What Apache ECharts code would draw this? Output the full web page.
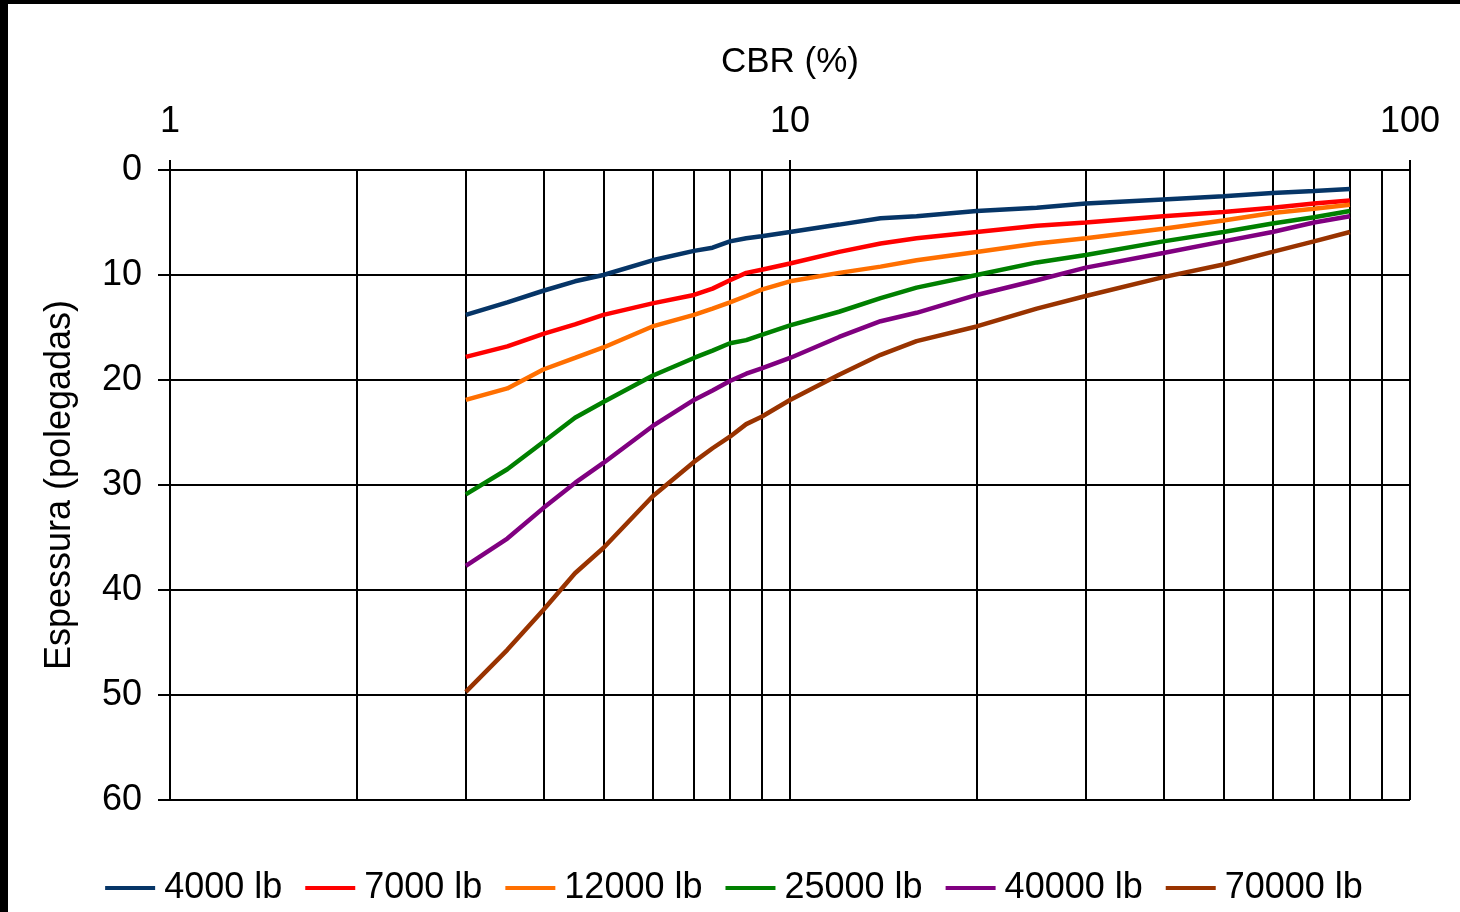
<!DOCTYPE html>
<html>
<head>
	<meta charset="utf-8">
	<title>CBR x Espessura</title>
	<script type="text/javascript" src="https://cdn.jsdelivr.net/npm/echarts@6.0.0/dist/echarts.min.js"></script>
</head>
<style type="text/css">
body {
	margin: 0;
	width: 1460px;
	height: 912px;
	background: #000;
	overflow: hidden;
}

#grafico {
	position: absolute;
	left: 8px;
	top: 4px;
	width: 1452px;
	height: 908px;
	background: #fff;
}
</style>
<body>
	<div id="grafico"></div>
</body>

<script type="text/javascript">

	// valores de CBR (%)
	var cbr = [3, 3.5, 4, 4.5, 5, 6, 7, 7.5, 8, 8.5, 9, 10, 12, 14, 16, 20, 25, 30, 40, 50, 60, 70, 80];

	// espessura (polegadas) por carga de roda
	var esp4000  = [13.8, 12.6, 11.5, 10.6, 10.0, 8.6, 7.7, 7.4, 6.8, 6.5, 6.3, 5.9, 5.2, 4.6, 4.4, 3.9, 3.6, 3.2, 2.8, 2.5, 2.2, 2.0, 1.8];
	var esp7000  = [17.8, 16.8, 15.6, 14.7, 13.8, 12.7, 11.9, 11.3, 10.5, 9.8, 9.5, 8.9, 7.8, 7.0, 6.5, 5.9, 5.3, 5.0, 4.4, 4.0, 3.6, 3.2, 2.9];
	var esp12000 = [21.9, 20.8, 19.0, 17.9, 16.9, 14.9, 13.8, 13.2, 12.6, 12.0, 11.4, 10.6, 9.8, 9.2, 8.6, 7.8, 7.0, 6.5, 5.6, 4.8, 4.1, 3.7, 3.3];
	var esp25000 = [30.9, 28.5, 25.9, 23.6, 22.1, 19.6, 17.9, 17.2, 16.5, 16.2, 15.7, 14.8, 13.5, 12.2, 11.2, 10.0, 8.8, 8.1, 6.8, 5.9, 5.1, 4.5, 3.9];
	var esp40000 = [37.7, 35.1, 32.2, 29.8, 27.9, 24.4, 21.9, 21.0, 20.1, 19.4, 18.9, 17.9, 15.9, 14.4, 13.6, 11.9, 10.5, 9.3, 7.9, 6.8, 5.9, 5.0, 4.4];
	var esp70000 = [49.7, 45.7, 41.9, 38.4, 36.0, 31.1, 27.8, 26.5, 25.4, 24.2, 23.5, 21.9, 19.5, 17.6, 16.3, 14.9, 13.2, 12.0, 10.2, 9.0, 7.8, 6.8, 5.9];

	var cargas = ['4000 lb', '7000 lb', '12000 lb', '25000 lb', '40000 lb', '70000 lb'];
	var cores = ['#063567', '#ff0000', '#ff6f00', '#008000', '#800080', '#993300'];

	// linhas de grade secundarias do eixo log
	var gradeMenor = [2, 3, 4, 5, 6, 7, 8, 9, 20, 30, 40, 50, 60, 70, 80, 90];

	var fonte = '"Liberation Sans", Arial, sans-serif';

	function pares(valores) {
		var d = [];
		for (var i = 0; i < cbr.length; i++) {
			d.push([cbr[i], valores[i]]);
		}
		return d;
	}

	var todas = [esp4000, esp7000, esp12000, esp25000, esp40000, esp70000];
	var series = [];
	for (var i = 0; i < todas.length; i++) {
		series.push({
			name: cargas[i],
			type: 'line',
			data: pares(todas[i]),
			showSymbol: false,
			symbol: 'none',
			smooth: false,
			lineStyle: { width: 4.5, color: cores[i] },
			itemStyle: { color: cores[i] },
			z: 3
		});
	}

	// grade vertical 2..9, 20..90
	var linhas = [];
	for (var j = 0; j < gradeMenor.length; j++) {
		linhas.push({ xAxis: gradeMenor[j] });
	}
	series[0].markLine = {
		silent: true,
		symbol: 'none',
		label: { show: false },
		lineStyle: { color: '#000', width: 2, type: 'solid' },
		data: linhas,
		z: 1
	};

	var Chart = echarts.init(document.getElementById('grafico'));

	var option = {
		animation: false,
		color: cores,
		textStyle: { fontFamily: fonte },
		grid: {
			left: 162,
			top: 166,
			right: 50,
			bottom: 112,
			containLabel: false
		},
		legend: {
			bottom: 1,
			left: 'center',
			icon: 'rect',
			itemWidth: 50,
			itemHeight: 4,
			itemGap: 23,
			textStyle: { fontSize: 36, color: '#000', fontFamily: fonte, padding: [0, 0, 0, 4] },
			data: cargas
		},
		xAxis: {
			type: 'log',
			logBase: 10,
			min: 1,
			max: 100,
			position: 'top',
			name: 'CBR (%)',
			nameLocation: 'middle',
			nameGap: 90,
			nameTextStyle: { fontSize: 35, color: '#000', fontFamily: fonte },
			axisLine: { show: true, lineStyle: { color: '#000', width: 2 } },
			axisTick: { show: true, length: 10, lineStyle: { color: '#000', width: 2 } },
			axisLabel: { fontSize: 36, color: '#000', margin: 30, fontFamily: fonte },
			splitLine: { show: true, lineStyle: { color: '#000', width: 2 } },
			minorTick: { show: false },
			minorSplitLine: { show: false }
		},
		yAxis: {
			type: 'value',
			inverse: true,
			min: 0,
			max: 60,
			interval: 10,
			name: 'Espessura (polegadas)',
			nameLocation: 'middle',
			nameGap: 92,
			nameRotate: 90,
			nameTextStyle: { fontSize: 36, color: '#000', fontFamily: fonte },
			axisLine: { show: true, lineStyle: { color: '#000', width: 2 } },
			axisTick: { show: true, length: 12, lineStyle: { color: '#000', width: 2 } },
			axisLabel: { fontSize: 36, color: '#000', margin: 28, fontFamily: fonte },
			splitLine: { show: true, lineStyle: { color: '#000', width: 2 } }
		},
		series: series
	};

	Chart.setOption(option);
</script>
</html>
